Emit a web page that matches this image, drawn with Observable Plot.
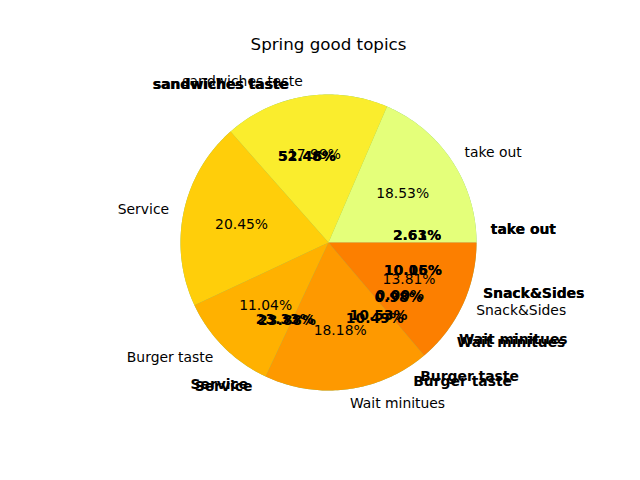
<!DOCTYPE html>
<html><head><meta charset="utf-8">
<script src="https://cdn.jsdelivr.net/npm/d3@7"></script>
<script src="https://cdn.jsdelivr.net/npm/@observablehq/plot@0.6"></script>
<style>body{margin:0;background:#fff}</style>
</head><body><div id="chart"></div>
<script>
const title = "Spring good topics";
const topics = ["take out", "sandwiches taste", "Service", "Burger taste", "Wait minitues", "Snack&Sides"];
const mainValues = [18.53, 17.99, 20.45, 11.04, 18.18, 13.81];
const colors = ["#e4ff7a", "#faed2d", "#ffce0a", "#ffb100", "#fe9900", "#fc7f00"];
// pies drawn underneath (hidden wedges, only their texts show), clockwise order
const hiddenTopics = ["take out", "Snack&Sides", "Wait minitues", "Burger taste", "Service", "sandwiches taste"];
const hiddenValuesA = [2.63, 10.05, 0.98, 10.49, 23.33, 52.46];
const hiddenValuesB = [2.61, 10.16, 0.00, 10.53, 23.88, 52.48];

function layout(labels, values, dir, startFromFirst) {
  const total = d3.sum(values);
  let a = startFromFirst ? values[0] / total * 360 : 0;
  return labels.map((label, i) => {
    const span = values[i] / total * 360;
    const a0 = a, a1 = a + dir * span;
    a = a1;
    const mid = (a0 + a1) / 2 * Math.PI / 180;
    return {label, value: values[i], a0, a1, mid, i,
      lx: 1.1 * Math.cos(mid), ly: 1.1 * Math.sin(mid),
      px: 0.6 * Math.cos(mid), py: 0.6 * Math.sin(mid)};
  });
}
function wedges(sl, colorOf) {
  const pts = [];
  for (const s of sl) {
    const n = Math.max(2, Math.ceil(Math.abs(s.a1 - s.a0)));
    pts.push({x: 0, y: 0, k: s.i, c: colorOf(s)});
    for (let j = 0; j <= n; j++) {
      const t = (s.a0 + (s.a1 - s.a0) * j / n) * Math.PI / 180;
      pts.push({x: Math.cos(t), y: Math.sin(t), k: s.i, c: colorOf(s)});
    }
    pts.push({x: 0, y: 0, k: s.i, c: colorOf(s)});
  }
  return pts;
}
const mainSl = layout(topics, mainValues, 1, false);
const hidA = layout(hiddenTopics, hiddenValuesA, -1, true);
const hidB = layout(hiddenTopics, hiddenValuesB, -1, true);

function labelMarks(sl, extra) {
  const fmt = d => d.value.toFixed(2) + "%";
  return [
    Plot.text(sl.filter(d => d.lx > 0), {x: "lx", y: "ly", text: "label", textAnchor: "start", fontSize: 13.9, fill: "black", ...extra}),
    Plot.text(sl.filter(d => d.lx <= 0), {x: "lx", y: "ly", text: "label", textAnchor: "end", fontSize: 13.9, fill: "black", ...extra}),
    Plot.text(sl, {x: "px", y: "py", text: fmt, textAnchor: "middle", fontSize: 13.9, fill: "black", ...extra})
  ];
}
const bold = {fontWeight: "bold"};

const chart = Plot.plot({
  width: 640, height: 480, margin: 0,
  x: {domain: [-328 / 148, 312 / 148], axis: null},
  y: {domain: [-238 / 148, 242 / 148], axis: null},
  style: {fontFamily: "DejaVu Sans", background: "white"},
  marks: [
    Plot.line(wedges(hidA, () => "#7cc47a"), {x: "x", y: "y", z: "k", fill: "c", stroke: null}),
    Plot.line(wedges(mainSl, s => colors[s.i]), {x: "x", y: "y", z: "k", fill: "c", stroke: null}),
    ...labelMarks(hidA, bold),
    ...labelMarks(hidB, bold),
    ...labelMarks(mainSl, {}),
    Plot.text([title], {x: () => 0, frameAnchor: "top", dy: 38, text: d => d, fontSize: 16.7, fill: "black", textAnchor: "middle"})
  ]
});
document.getElementById("chart").appendChild(chart);
</script>
</body></html>
